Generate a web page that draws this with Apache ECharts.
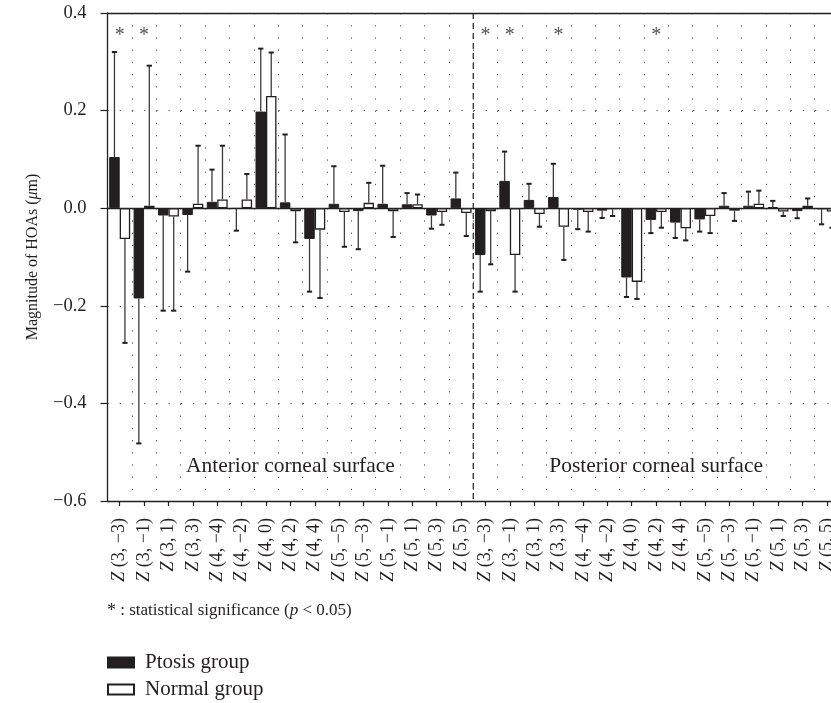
<!DOCTYPE html>
<html>
<head>
<meta charset="utf-8">
<title>Corneal HOAs</title>
<script src="https://cdn.jsdelivr.net/npm/echarts@6/dist/echarts.min.js"></script>
<style>
  html, body { margin: 0; padding: 0; background: #ffffff; overflow: hidden; }
  /* the plot runs slightly past the right edge of the window */
  #chart { width: 839px; height: 703px; }
</style>
</head>
<body>
<div id="chart"></div>
<script>
// Zernike terms, repeated for the anterior and the posterior surface
const zernikeTerms = ['3, −3', '3, −1', '3, 1', '3, 3', '4, −4', '4, −2', '4, 0', '4, 2', '4, 4',
                      '5, −5', '5, −3', '5, −1', '5, 1', '5, 3', '5, 5'];
const surfaces = ['Anterior corneal surface', 'Posterior corneal surface'];
const categories = surfaces.flatMap((s, si) => zernikeTerms.map(t => si + '|' + t));

// Mean magnitude (µm): anterior 15 terms, then posterior 15 terms
const ptosisMean = [0.105, -0.185, -0.015, -0.014, 0.013, -0.001, 0.198, 0.012, -0.063, 0.009, -0.006, 0.009, 0.008, -0.015, 0.020,
                    -0.096, 0.056, 0.017, 0.023, -0.003, -0.005, -0.142, -0.024, -0.0295, -0.023, 0.005, 0.005, 0.002, -0.006, -0.002];
const ptosisSD   = [0.215, 0.297, 0.195, 0.116, 0.066, 0.045, 0.129, 0.139, 0.108, 0.077, 0.078, 0.078, 0.023, 0.027, 0.053,
                    0.075, 0.060, 0.033, 0.068, 0.040, 0.015, 0.040, 0.027, 0.0315, 0.025, 0.026, 0.029, 0.013, 0.0145, 0.031];
const normalMean = [-0.063, 0.005, -0.017, 0.009, 0.018, 0.018, 0.230, -0.006, -0.044, -0.008, 0.011, -0.006, 0.008, -0.008, -0.010,
                    -0.006, -0.096, -0.012, -0.038, -0.008, -0.002, -0.151, -0.008, -0.041, -0.016, -0.005, 0.009, -0.007, 0.005, -0.007];
const normalSD   = [0.213, 0.287, 0.193, 0.119, 0.110, 0.052, 0.089, 0.064, 0.140, 0.071, 0.041, 0.053, 0.020, 0.026, 0.047,
                    0.109, 0.075, 0.026, 0.068, 0.040, 0.014, 0.035, 0.032, 0.025, 0.035, 0.021, 0.027, 0.009, 0.015, 0.033];

// Terms with a significant difference between groups (p < 0.05)
const significantIdx = [0, 1, 15, 16, 18, 22];

const yTicks = { min: -0.6, max: 0.4, interval: 0.2 };

const FONT = '"Liberation Serif", "Times New Roman", serif';
const INK = '#231f20';

const BAR_SHIFT = 0.215; // bar centre offset from the category centre, as a fraction of the band

function errorBars(side) {
  return function (params, api) {
    const idx = api.value(0), mean = api.value(1), sd = api.value(2);
    const band = api.size([1, 0])[0];
    const x = api.coord([idx, 0])[0] + side * band * BAR_SHIFT;
    const dir = mean >= 0 ? 1 : -1;
    const y0 = api.coord([idx, mean])[1];
    const y1 = api.coord([idx, mean + dir * sd])[1];
    const cap = 2.6;
    return {
      type: 'group',
      children: [
        { type: 'line', shape: { x1: x, y1: y0, x2: x, y2: y1 }, style: { stroke: '#3b3b3b', lineWidth: 1.3 } },
        { type: 'line', shape: { x1: x - cap, y1: y1, x2: x + cap, y2: y1 }, style: { stroke: INK, lineWidth: 2 } }
      ]
    };
  };
}

const chart = echarts.init(document.getElementById('chart'), null, { renderer: 'canvas' });

chart.setOption({
  animation: false,
  backgroundColor: '#ffffff',
  textStyle: { fontFamily: FONT },
  grid: { left: 107.5, top: 13, right: 0, bottom: 202, containLabel: false },
  legend: {
    orient: 'vertical',
    left: 107,
    top: 652,
    padding: 0,
    itemWidth: 26,
    itemHeight: 10,
    itemGap: 6,
    icon: 'rect',
    selectedMode: false,
    data: ['Ptosis group', 'Normal group'],
    textStyle: { fontFamily: FONT, fontSize: 21, color: INK, padding: [0, 0, 0, 6], lineHeight: 19 }
  },
  graphic: [{
    type: 'text',
    left: 107,
    top: 602,
    style: {
      text: '{s|*} : statistical significance ({i|p} < 0.05)',
      font: '17px ' + FONT,
      fill: INK,
      rich: {
        s: { fontSize: 18, fontFamily: FONT, fill: INK },
        i: { fontStyle: 'italic', fontSize: 17, fontFamily: FONT, fill: INK }
      }
    }
  }],
  xAxis: [{
    type: 'category',
    data: categories,
    position: 'bottom',
    axisLine: { show: true, onZero: false, lineStyle: { color: INK, width: 1.3 } },
    axisTick: { show: true, alignWithLabel: true, length: 5, lineStyle: { color: INK, width: 1.2 } },
    axisLabel: {
      interval: 0,
      rotate: 90,
      margin: 17,
      fontSize: 18,
      fontFamily: FONT,
      color: INK,
      formatter: (v) => '{z|Z} (' + v.split('|')[1] + ')',
      rich: { z: { fontStyle: 'italic', fontSize: 18, fontFamily: FONT, color: INK } }
    },
    splitLine: { show: true, interval: 0, lineStyle: { color: '#555', width: 1, type: [1.3, 10.9] } }
  }, {
    type: 'category',
    data: categories,
    position: 'top',
    axisLine: { show: true, onZero: false, lineStyle: { color: INK, width: 1.3 } },
    axisTick: { show: false },
    axisLabel: { show: false },
    splitLine: { show: false }
  }],
  yAxis: {
    type: 'value',
    min: yTicks.min,
    max: yTicks.max,
    interval: yTicks.interval,
    name: 'Magnitude of HOAs ({i|μ}m)',
    nameLocation: 'middle',
    nameGap: 67,
    nameRotate: 90,
    nameTextStyle: {
      fontFamily: FONT, fontSize: 16, color: INK,
      rich: { i: { fontStyle: 'italic', fontFamily: FONT, fontSize: 16, color: INK } }
    },
    axisLine: { show: true, lineStyle: { color: INK, width: 1.3 } },
    axisTick: { show: true, inside: false, length: 7, lineStyle: { color: INK, width: 1.2 } },
    axisLabel: {
      margin: 21,
      fontSize: 18.5,
      fontFamily: FONT,
      color: INK,
      formatter: (v) => (v < -1e-9 ? '−' : '') + Math.abs(v).toFixed(1)
    },
    splitLine: { show: true, lineStyle: { color: '#555', width: 1, type: [1.3, 10.9] } }
  },
  series: [
    {
      name: 'Ptosis group',
      type: 'bar',
      data: ptosisMean,
      barWidth: '43%',
      barGap: '0%',
      itemStyle: { color: INK, borderColor: INK, borderWidth: 1 },
      z: 3
    },
    {
      name: 'Normal group',
      type: 'bar',
      data: normalMean,
      barWidth: '43%',
      barGap: '0%',
      itemStyle: { color: '#ffffff', borderColor: INK, borderWidth: 1.3 },
      z: 3,
      markLine: {
        silent: true,
        symbol: ['none', 'none'],
        label: { show: false },
        lineStyle: { color: INK, width: 1.3, type: 'solid' },
        data: [{ yAxis: 0 }],
        z: 2
      }
    },
    {
      type: 'custom',
      name: 'Ptosis SD',
      renderItem: errorBars(-1),
      data: ptosisMean.map((m, i) => [i, m, ptosisSD[i]]),
      encode: { x: 0, y: 1 },
      z: 4
    },
    {
      type: 'custom',
      name: 'Normal SD',
      renderItem: errorBars(1),
      data: normalMean.map((m, i) => [i, m, normalSD[i]]),
      encode: { x: 0, y: 1 },
      z: 4
    },
    {
      // dashed divider between the two corneal surfaces
      type: 'custom',
      renderItem: function (params, api) {
        const idx = api.value(0);
        const band = api.size([1, 0])[0];
        const x = api.coord([idx, 0])[0] + band / 2;
        const cs = params.coordSys;
        return {
          type: 'line',
          shape: { x1: x, y1: cs.y, x2: x, y2: cs.y + cs.height },
          style: { stroke: INK, lineWidth: 1.2, lineDash: [6, 4] }
        };
      },
      data: [[zernikeTerms.length - 1, 0]],
      encode: { x: 0, y: 1 },
      z: 5
    },
    {
      // surface captions, centred in each half
      type: 'custom',
      renderItem: function (params, api) {
        const p = api.coord([api.value(0), api.value(1)]);
        return {
          type: 'text',
          x: p[0], y: p[1],
          style: {
            text: surfaces[api.value(2)],
            font: '21.5px ' + FONT,
            fill: INK,
            textAlign: 'center',
            textVerticalAlign: 'middle',
            backgroundColor: '#ffffff'
          }
        };
      },
      data: [[7, -0.528, 0], [22, -0.528, 1]],
      encode: { x: 0, y: 1 },
      z: 6
    },
    {
      // significance asterisks
      type: 'custom',
      renderItem: function (params, api) {
        const p = api.coord([api.value(0), api.value(1)]);
        return {
          type: 'text',
          x: p[0], y: p[1] + 4,
          style: {
            text: '*',
            font: '20px ' + FONT,
            fill: '#555',
            textAlign: 'center',
            textVerticalAlign: 'middle'
          }
        };
      },
      data: significantIdx.map(i => [i, 0.362]),
      encode: { x: 0, y: 1 },
      z: 6
    }
  ]
});
</script>
</body>
</html>
